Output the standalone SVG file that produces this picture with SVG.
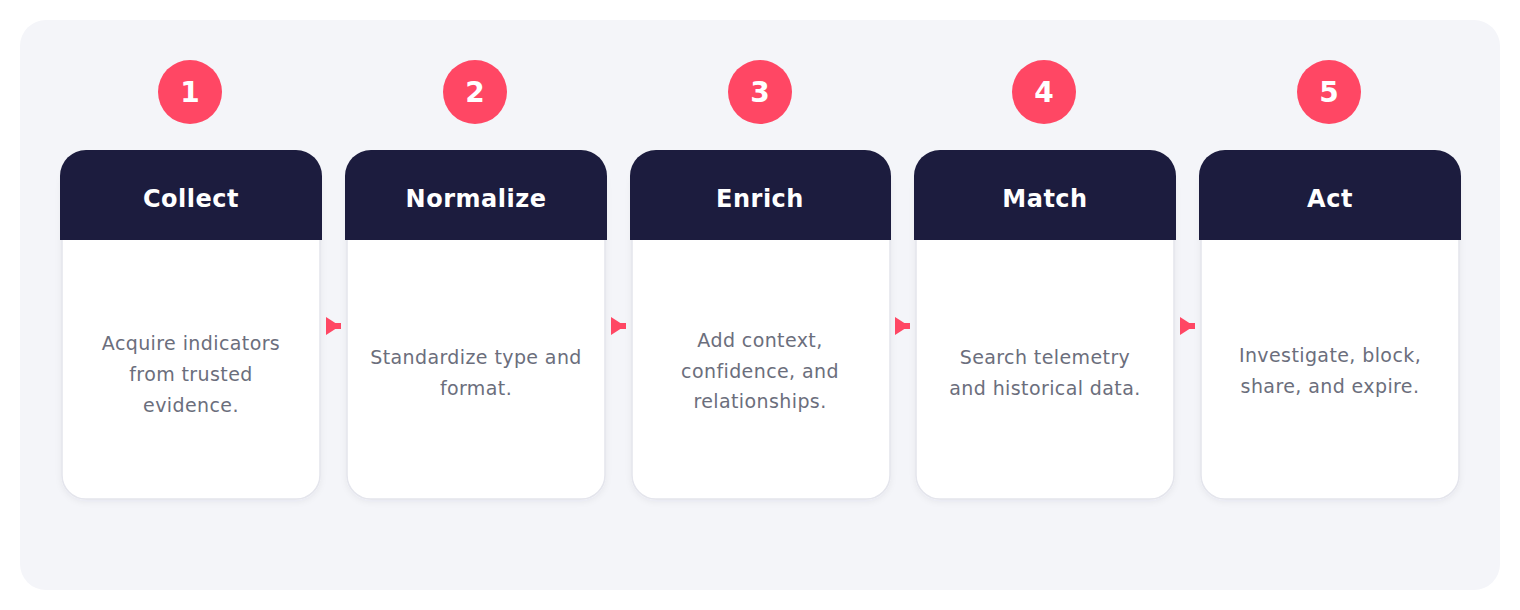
<svg xmlns="http://www.w3.org/2000/svg" width="1520" height="610" viewBox="0 0 1520 610">
  <defs>
    <style>
      .bg { fill: #f4f5f9; }
      .body { fill: #ffffff; stroke: #e4e5ec; stroke-width: 1.5; }
      .head { fill: #1c1c3e; }
      .badge { fill: #ff4764; }
      .num { font-family: "DejaVu Sans", sans-serif; font-weight: bold; font-size: 28px; fill: #ffffff; text-anchor: middle; }
      .title { font-family: "DejaVu Sans", sans-serif; font-weight: bold; font-size: 24px; letter-spacing: 0.5px; fill: #ffffff; text-anchor: middle; }
      .desc { font-family: "DejaVu Sans", sans-serif; font-size: 19px; letter-spacing: 0.4px; fill: #6b6e7c; text-anchor: middle; }
      .conn { stroke: #ff4764; stroke-width: 6; fill: none; }
    </style>
    <marker id="arrow" viewBox="0 0 14 18" refX="4" refY="9" markerWidth="14" markerHeight="18" markerUnits="userSpaceOnUse" orient="auto">
      <path d="M0,0 L14,9 L0,18 Z" fill="#ff4764"/>
    </marker>
    <filter id="sh" x="-10%" y="-10%" width="120%" height="120%">
      <feDropShadow dx="0" dy="2" stdDeviation="3" flood-color="#1c1c3e" flood-opacity="0.06"/>
    </filter>
  </defs>

  <rect class="bg" x="20" y="20" width="1480" height="570" rx="26"/>

  <g id="connectors">
    <line class="conn" x1="330" y1="326" x2="341" y2="326" marker-start="url(#arrow)"/>
    <line class="conn" x1="615" y1="326" x2="626" y2="326" marker-start="url(#arrow)"/>
    <line class="conn" x1="899" y1="326" x2="910" y2="326" marker-start="url(#arrow)"/>
    <line class="conn" x1="1184" y1="326" x2="1195" y2="326" marker-start="url(#arrow)"/>
  </g>

  <g id="step1">
    <circle class="badge" cx="190" cy="92" r="32"/>
    <text class="num" x="190" y="102">1</text>
    <rect class="body" filter="url(#sh)" x="62" y="160" width="258" height="339" rx="24"/>
    <path class="head" d="M60,240 V176 A26,26 0 0 1 86,150 H296 A26,26 0 0 1 322,176 V240 Z"/>
    <text class="title" x="191" y="207">Collect</text>
    <text class="desc" x="191" y="350">Acquire indicators</text>
    <text class="desc" x="191" y="381">from trusted</text>
    <text class="desc" x="191" y="412">evidence.</text>
  </g>

  <g id="step2">
    <circle class="badge" cx="475" cy="92" r="32"/>
    <text class="num" x="475" y="102">2</text>
    <rect class="body" filter="url(#sh)" x="347" y="160" width="258" height="339" rx="24"/>
    <path class="head" d="M345,240 V176 A26,26 0 0 1 371,150 H581 A26,26 0 0 1 607,176 V240 Z"/>
    <text class="title" x="476" y="207">Normalize</text>
    <text class="desc" x="476" y="364">Standardize type and</text>
    <text class="desc" x="476" y="395">format.</text>
  </g>

  <g id="step3">
    <circle class="badge" cx="760" cy="92" r="32"/>
    <text class="num" x="760" y="102">3</text>
    <rect class="body" filter="url(#sh)" x="632" y="160" width="258" height="339" rx="24"/>
    <path class="head" d="M630,240 V176 A26,26 0 0 1 656,150 H865 A26,26 0 0 1 891,176 V240 Z"/>
    <text class="title" x="760" y="207">Enrich</text>
    <text class="desc" x="760" y="347">Add context,</text>
    <text class="desc" x="760" y="378">confidence, and</text>
    <text class="desc" x="760" y="408">relationships.</text>
  </g>

  <g id="step4">
    <circle class="badge" cx="1044" cy="92" r="32"/>
    <text class="num" x="1044" y="102">4</text>
    <rect class="body" filter="url(#sh)" x="916" y="160" width="258" height="339" rx="24"/>
    <path class="head" d="M914,240 V176 A26,26 0 0 1 940,150 H1150 A26,26 0 0 1 1176,176 V240 Z"/>
    <text class="title" x="1045" y="207">Match</text>
    <text class="desc" x="1045" y="364">Search telemetry</text>
    <text class="desc" x="1045" y="395">and historical data.</text>
  </g>

  <g id="step5">
    <circle class="badge" cx="1329" cy="92" r="32"/>
    <text class="num" x="1329" y="102">5</text>
    <rect class="body" filter="url(#sh)" x="1201" y="160" width="258" height="339" rx="24"/>
    <path class="head" d="M1199,240 V176 A26,26 0 0 1 1225,150 H1435 A26,26 0 0 1 1461,176 V240 Z"/>
    <text class="title" x="1330" y="207">Act</text>
    <text class="desc" x="1330" y="362">Investigate, block,</text>
    <text class="desc" x="1330" y="393">share, and expire.</text>
  </g>
</svg>
